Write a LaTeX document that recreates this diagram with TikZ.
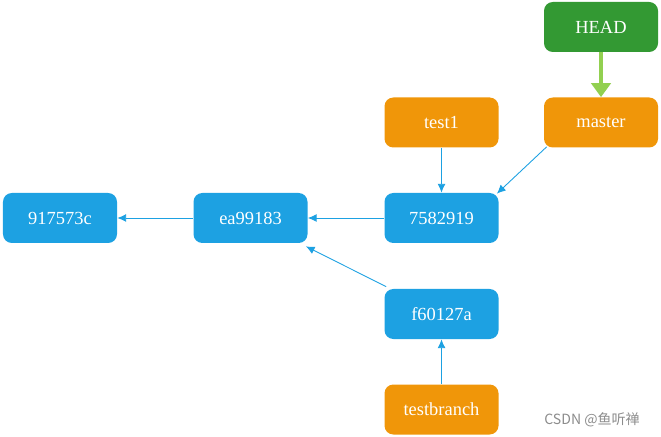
\documentclass[tikz,border=0pt]{standalone}
\usepackage{fontspec}
\setmainfont{Liberation Serif}
\newfontfamily\cjkfont{Noto Sans CJK SC}
\usepackage{xcolor}
\definecolor{ColB}{RGB}{29,161,226}
\definecolor{ColO}{RGB}{240,150,9}
\definecolor{ColG}{RGB}{51,153,51}
\definecolor{ColL}{RGB}{146,208,80}
\usepackage{tikz}
\usetikzlibrary{arrows.meta}
\tikzstyle{Box}=[rectangle,rounded corners=5pt,minimum width=2.28cm,
minimum height=1cm,text=white,font=\rmfamily\fontsize{10.5}{12}\selectfont,inner sep=0pt]
\tikzstyle{Commit}=[Box,fill=ColB]
\tikzstyle{Branch}=[Box,fill=ColO]
\tikzstyle{Head}=[Box,fill=ColG]
\tikzstyle{Edge}=[draw=ColB,line width=0.5pt,-{Latex[length=5pt,width=4.5pt]}]
\tikzstyle{EdgeHead}=[draw=ColL,line width=2.2pt,-{Triangle[length=8pt,width=11pt]}]
\tikzstyle{Mark}=[text=black!45,font=\cjkfont\fontsize{8}{9}\selectfont]

\begin{document}
\begin{tikzpicture}[x=0.2mm,y=0.2mm]
        \useasboundingbox(0,0)rectangle(661,-437);
        \node[Commit](c917)at(60.0,-218.0){917573c};
        \node[Commit](cea9)at(250.5,-218.0){ea99183};
        \node[Commit](c758)at(441.5,-218.0){7582919};
        \node[Commit](cf60)at(441.5,-314.0){f60127a};
        \node[Branch](test1)at(441.5,-122.5){test1};
        \node[Branch](master)at(601.0,-122.5){master};
        \node[Branch](testbranch)at(441.5,-409.5){testbranch};
        \node[Head](head)at(601.0,-27.0){HEAD};
        \draw[Edge](cea9)--(c917);
        \draw[Edge](c758)--(cea9);
        \draw[Edge](test1)--(c758);
        \draw[Edge]([shift={(3,1)}]master.south west)--([shift={(-2,-1)}]c758.north east);
        \draw[Edge]([shift={(2,2)}]cf60.north west)--([shift={(-2,-3)}]cea9.south east);
        \draw[Edge](testbranch)--(cf60);
        \draw[EdgeHead](head)--(master);
        \node[Mark,anchor=east](mark)at(646,-420){CSDN @鱼听禅};
    \end{tikzpicture}
\end{document}
